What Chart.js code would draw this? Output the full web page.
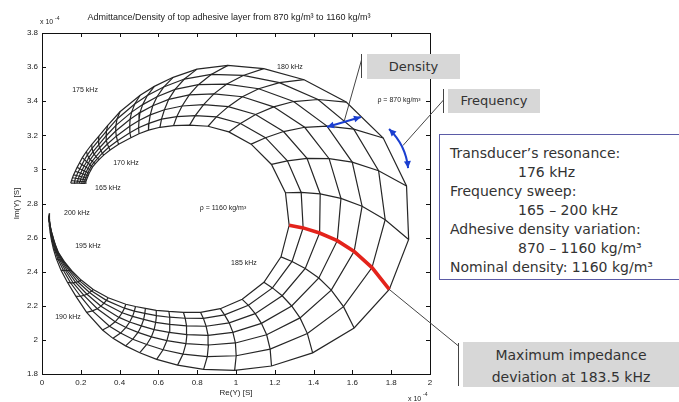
<!DOCTYPE html>
<html>
<head>
<meta charset="utf-8">
<script src="https://cdn.jsdelivr.net/npm/chart.js@4.4.0/dist/chart.umd.min.js"></script>
<style>
  body { margin: 0; background: #fff; }
  #wrap { position: relative; width: 679px; height: 402px; overflow: hidden; }
  #chart { position: absolute; left: 0; top: 0; }
  .note { position: absolute; font-family: "DejaVu Sans", sans-serif; color: #333; box-sizing: border-box; }
  .grey { background: #d7d7d7; text-align: center; }
  .info { left: 439px; top: 134px; width: 242px; height: 146px; border: 1.5px solid #5b5ba6;
          padding: 9px 0 0 10px; font-size: 14px; line-height: 19px; background: #fff; }
  .info .ind { padding-left: 68px; }
</style>
</head>
<body>
<div id="wrap">
  <canvas id="chart" width="679" height="402"></canvas>
  <div class="note grey" style="left:367px;top:54px;width:93px;height:25px;line-height:25px;font-size:13px;">Density</div>
  <div class="note grey" style="left:448px;top:89px;width:92px;height:24px;line-height:24px;font-size:13px;">Frequency</div>
  <div class="note info">
    <div>Transducer’s resonance:</div>
    <div class="ind">176 kHz</div>
    <div>Frequency sweep:</div>
    <div class="ind">165 – 200 kHz</div>
    <div>Adhesive density variation:</div>
    <div class="ind">870 – 1160 kg/m³</div>
    <div>Nominal density: 1160 kg/m³</div>
  </div>
  <div class="note grey" style="left:463px;top:342px;width:216px;height:45px;padding-top:2px;font-size:14px;line-height:22px;">Maximum impedance<br>deviation at 183.5 kHz</div>
</div>
<script>
// frequency grid (kHz) and adhesive densities (kg/m3)
const freqs = [165, 166, 167, 168, 169, 170, 171, 172, 173, 174, 175, 176, 177, 178,
  178.5, 179, 179.5, 180, 180.5, 181, 181.5, 182, 182.5, 183, 183.5, 184, 184.5, 185,
  185.5, 186, 186.5, 187, 187.5, 188, 188.5, 189,
  190, 191, 192, 193, 194, 195, 196, 197, 198, 199, 200];
const densities = [870, 918, 967, 1015, 1063, 1112, 1160];
const maxDevFreq = 183.5;

// Re(Y) and Im(Y), x 10^-4 S, one pair per density, one value per frequency
const re870 = [.148, .152, .157, .163, .171, .181, .193, .208, .229, .256, .293, .339, .402, .506,
  .579, .676, .799, .958, 1.143, 1.351, 1.568, 1.759, 1.879, 1.890, 1.790, 1.609, 1.395, 1.183,
  .993, .833, .699, .591, .504, .431, .366, .312,
  .230, .175, .131, .098, .074, .059, .049, .042, .039, .038, .039];
const im870 = [2.920, 2.934, 2.951, 2.968, 2.988, 3.012, 3.038, 3.069, 3.105, 3.146, 3.195, 3.258, 3.338, 3.435,
  3.487, 3.540, 3.588, 3.610, 3.591, 3.526, 3.395, 3.184, 2.903, 2.589, 2.296, 2.070, 1.924, 1.847,
  1.821, 1.827, 1.852, 1.886, 1.925, 1.965, 2.009, 2.058,
  2.161, 2.255, 2.338, 2.408, 2.475, 2.532, 2.583, 2.631, 2.671, 2.709, 2.742];

const re918 = [.165, .168, .173, .178, .186, .195, .206, .219, .234, .258, .291, .332, .387, .478,
  .543, .627, .734, .872, 1.037, 1.224, 1.423, 1.607, 1.735, 1.769, 1.701, 1.554, 1.368, 1.176,
  1.001, .852, .727, .624, .540, .468, .405, .348,
  .260, .198, .147, .110, .083, .065, .053, .045, .041, .038, .038];
const im918 = [2.920, 2.932, 2.948, 2.964, 2.983, 3.004, 3.028, 3.057, 3.085, 3.123, 3.169, 3.225, 3.296, 3.384,
  3.433, 3.483, 3.530, 3.557, 3.551, 3.509, 3.410, 3.236, 2.992, 2.705, 2.424, 2.195, 2.037, 1.946,
  1.907, 1.902, 1.917, 1.942, 1.973, 2.004, 2.040, 2.080,
  2.170, 2.256, 2.335, 2.408, 2.472, 2.528, 2.578, 2.626, 2.666, 2.704, 2.737];

const re967 = [.180, .183, .187, .192, .199, .207, .217, .230, .241, .263, .293, .330, .381, .462,
  .519, .593, .686, .806, .951, 1.117, 1.297, 1.469, 1.599, 1.650, 1.609, 1.491, 1.330, 1.158,
  .997, .858, .742, .644, .564, .495, .433, .377,
  .285, .216, .161, .121, .091, .070, .057, .048, .042, .038, .037];
const im967 = [2.919, 2.931, 2.946, 2.960, 2.978, 2.997, 3.020, 3.045, 3.069, 3.104, 3.145, 3.196, 3.258, 3.336,
  3.380, 3.426, 3.469, 3.497, 3.500, 3.473, 3.398, 3.254, 3.043, 2.784, 2.519, 2.292, 2.129, 2.030,
  1.982, 1.970, 1.978, 1.996, 2.018, 2.044, 2.073, 2.106,
  2.183, 2.261, 2.334, 2.407, 2.469, 2.524, 2.574, 2.621, 2.661, 2.699, 2.732];

const re1015 = [.192, .196, .199, .204, .211, .218, .227, .239, .249, .269, .297, .332, .380, .454,
  .505, .571, .653, .759, .886, 1.033, 1.194, 1.354, 1.480, 1.541, 1.522, 1.427, 1.287, 1.131,
  .984, .856, .747, .655, .578, .512, .452, .397,
  .304, .232, .173, .130, .098, .074, .060, .050, .043, .039, .037];
const im1015 = [2.919, 2.930, 2.943, 2.957, 2.973, 2.991, 3.012, 3.036, 3.057, 3.089, 3.127, 3.171, 3.225, 3.294,
  3.333, 3.373, 3.411, 3.437, 3.443, 3.426, 3.367, 3.247, 3.063, 2.830, 2.582, 2.363, 2.199, 2.097,
  2.044, 2.027, 2.031, 2.044, 2.060, 2.082, 2.105, 2.132,
  2.198, 2.268, 2.337, 2.407, 2.467, 2.520, 2.570, 2.616, 2.657, 2.694, 2.728];

const re1063 = [.204, .208, .211, .216, .221, .228, .237, .247, .259, .278, .304, .337, .383, .452,
  .500, .558, .631, .722, .833, .960, 1.101, 1.245, 1.366, 1.434, 1.431, 1.357, 1.238, 1.099,
  .965, .846, .745, .659, .586, .524, .467, .413,
  .319, .245, .184, .139, .104, .079, .063, .053, .044, .039, .036];
const im1063 = [2.918, 2.929, 2.941, 2.955, 2.969, 2.986, 3.005, 3.027, 3.048, 3.075, 3.110, 3.149, 3.195, 3.253,
  3.287, 3.320, 3.350, 3.372, 3.380, 3.368, 3.322, 3.222, 3.065, 2.856, 2.627, 2.419, 2.259, 2.154,
  2.100, 2.080, 2.082, 2.091, 2.103, 2.120, 2.138, 2.159,
  2.215, 2.278, 2.341, 2.407, 2.465, 2.517, 2.567, 2.612, 2.653, 2.690, 2.724];

const re1112 = [.215, .218, .221, .225, .231, .236, .245, .254, .267, .287, .311, .344, .389, .453,
  .498, .551, .616, .695, .790, .899, 1.023, 1.152, 1.265, 1.336, 1.346, 1.289, 1.188, 1.064,
  .941, .832, .738, .658, .590, .530, .476, .425,
  .332, .256, .194, .147, .110, .082, .066, .054, .045, .039, .035];
const im1112 = [2.918, 2.928, 2.939, 2.952, 2.966, 2.981, 2.999, 3.019, 3.040, 3.065, 3.095, 3.130, 3.168, 3.215,
  3.244, 3.270, 3.295, 3.310, 3.315, 3.308, 3.269, 3.186, 3.050, 2.865, 2.657, 2.460, 2.305, 2.203,
  2.147, 2.126, 2.127, 2.133, 2.142, 2.156, 2.169, 2.186,
  2.232, 2.287, 2.346, 2.406, 2.463, 2.514, 2.563, 2.609, 2.650, 2.687, 2.721];

const re1160 = [.223, .226, .229, .233, .238, .243, .251, .260, .275, .294, .318, .351, .395, .458,
  .500, .549, .608, .678, .761, .856, .963, 1.078, 1.183, 1.255, 1.274, 1.232, 1.144, 1.032,
  .919, .817, .729, .654, .589, .533, .482, .432,
  .341, .264, .202, .153, .114, .085, .068, .056, .046, .039, .035];
const im1160 = [2.918, 2.927, 2.938, 2.950, 2.963, 2.977, 2.994, 3.013, 3.034, 3.057, 3.084, 3.114, 3.147, 3.186,
  3.209, 3.230, 3.247, 3.257, 3.260, 3.253, 3.220, 3.148, 3.029, 2.863, 2.672, 2.487, 2.338, 2.238,
  2.183, 2.162, 2.162, 2.167, 2.173, 2.185, 2.196, 2.209,
  2.247, 2.296, 2.351, 2.406, 2.461, 2.512, 2.561, 2.606, 2.647, 2.684, 2.718];

const xTicks = [0, 0.2, 0.4, 0.6, 0.8, 1, 1.2, 1.4, 1.6, 1.8, 2];
const yTicks = [1.8, 2, 2.2, 2.4, 2.6, 2.8, 3, 3.2, 3.4, 3.6, 3.8];

// text labels inside the axes, placed in data units
const plotNotes = [
  { text: '180 kHz', x: 1.278, y: 3.601 },
  { text: '175 kHz', x: 0.222, y: 3.466 },
  { text: '170 kHz', x: 0.433, y: 3.038 },
  { text: '165 kHz', x: 0.340, y: 2.891 },
  { text: '200 kHz', x: 0.180, y: 2.744 },
  { text: '195 kHz', x: 0.237, y: 2.551 },
  { text: '190 kHz', x: 0.134, y: 2.134 },
  { text: '185 kHz', x: 1.041, y: 2.451 },
  { text: 'ρ = 1160 kg/m³', x: 0.933, y: 2.774 },
  { text: 'ρ = 870 kg/m³', x: 1.840, y: 3.407 },
];
const densityArrow = [{ x: 1.469, y: 3.249 }, { x: 1.644, y: 3.307 }];
const freqArrow = [{ x: 1.789, y: 3.237 }, { x: 1.876, y: 3.140 }, { x: 1.887, y: 3.008 }];

const curveRe = [re870, re918, re967, re1015, re1063, re1112, re1160];
const curveIm = [im870, im918, im967, im1015, im1063, im1112, im1160];

const lineColor = '#262626';
const datasets = [];
densities.forEach((d, i) => {
  datasets.push({
    label: 'rho = ' + d,
    data: freqs.map((f, j) => ({ x: curveRe[i][j], y: curveIm[i][j] })),
    borderColor: lineColor,
    borderWidth: 1.2,
    pointRadius: 0,
    showLine: true,
    order: 1,
  });
});
freqs.forEach((f, j) => {
  const hot = f === maxDevFreq;
  datasets.push({
    label: f + ' kHz',
    data: densities.map((d, i) => ({ x: curveRe[i][j], y: curveIm[i][j] })),
    borderColor: hot ? '#e3231b' : lineColor,
    borderWidth: hot ? 3.6 : 1.2,
    pointRadius: 0,
    showLine: true,
    order: hot ? 0 : 1,
  });
});

const arrowHead = (ctx, tx, ty, fx, fy) => {
  const a = Math.atan2(ty - fy, tx - fx);
  ctx.beginPath();
  ctx.moveTo(tx, ty);
  ctx.lineTo(tx - 7 * Math.cos(a) + 3.5 * Math.sin(a), ty - 7 * Math.sin(a) - 3.5 * Math.cos(a));
  ctx.lineTo(tx - 7 * Math.cos(a) - 3.5 * Math.sin(a), ty - 7 * Math.sin(a) + 3.5 * Math.cos(a));
  ctx.closePath();
  ctx.fill();
};

const extras = {
  id: 'extras',
  afterDraw(chart) {
    const { ctx, chartArea: a, scales: { x, y } } = chart;
    const px = p => ({ x: x.getPixelForValue(p.x), y: y.getPixelForValue(p.y) });
    ctx.save();

    // axes box and inward ticks
    ctx.strokeStyle = '#111';
    ctx.lineWidth = 1;
    ctx.strokeRect(a.left + 0.5, a.top + 0.5, a.right - a.left, a.bottom - a.top);
    ctx.beginPath();
    xTicks.forEach(v => {
      const p = Math.round(x.getPixelForValue(v)) + 0.5;
      ctx.moveTo(p, a.bottom); ctx.lineTo(p, a.bottom - 4);
      ctx.moveTo(p, a.top); ctx.lineTo(p, a.top + 4);
    });
    yTicks.forEach(v => {
      const p = Math.round(y.getPixelForValue(v)) + 0.5;
      ctx.moveTo(a.left, p); ctx.lineTo(a.left + 4, p);
      ctx.moveTo(a.right, p); ctx.lineTo(a.right - 4, p);
    });
    ctx.stroke();

    // title and exponent labels
    ctx.fillStyle = '#222';
    ctx.font = '9px "Liberation Sans", Arial, sans-serif';
    ctx.textAlign = 'center';
    ctx.textBaseline = 'middle';
    ctx.fillText('Admittance/Density of top adhesive layer from 870 kg/m³ to 1160 kg/m³', a.left + 187, 18);
    ctx.textAlign = 'left';
    ctx.textBaseline = 'alphabetic';
    ctx.font = '7px "Liberation Sans", Arial, sans-serif';
    ctx.fillText('x 10', a.left - 2, 24);
    ctx.fillText('x 10', a.right - 22, 401);
    ctx.font = '5px "Liberation Sans", Arial, sans-serif';
    ctx.fillText('-4', a.left + 13, 20);
    ctx.fillText('-4', a.right - 7, 396);

    // notes inside the plot
    ctx.font = '7px "Liberation Sans", Arial, sans-serif';
    ctx.textAlign = 'center';
    ctx.textBaseline = 'middle';
    plotNotes.forEach(n => ctx.fillText(n.text, x.getPixelForValue(n.x), y.getPixelForValue(n.y)));

    // callout connectors
    const dMid = px({ x: (densityArrow[0].x + densityArrow[1].x) / 2, y: (densityArrow[0].y + densityArrow[1].y) / 2 });
    const fMid = px(freqArrow[1]);
    const k = freqs.indexOf(maxDevFreq);
    const redEnd = px({ x: re870[k], y: im870[k] });
    ctx.strokeStyle = '#444';
    ctx.lineWidth = 1;
    ctx.beginPath();
    ctx.moveTo(361.5, 54); ctx.lineTo(361.5, 78);
    ctx.moveTo(361.5, 60); ctx.lineTo(dMid.x, dMid.y);
    ctx.moveTo(443.5, 89); ctx.lineTo(443.5, 113);
    ctx.moveTo(443.5, 100); ctx.lineTo(fMid.x - 3, fMid.y);
    ctx.moveTo(458.5, 343); ctx.lineTo(458.5, 386);
    ctx.moveTo(458.5, 346); ctx.lineTo(redEnd.x, redEnd.y);
    ctx.stroke();

    // blue arrows
    ctx.strokeStyle = '#1b3fd0';
    ctx.fillStyle = '#1b3fd0';
    ctx.lineWidth = 2;
    const d0 = px(densityArrow[0]), d1 = px(densityArrow[1]);
    ctx.beginPath(); ctx.moveTo(d0.x, d0.y); ctx.lineTo(d1.x, d1.y); ctx.stroke();
    arrowHead(ctx, d0.x, d0.y, d1.x, d1.y);
    arrowHead(ctx, d1.x, d1.y, d0.x, d0.y);
    const f0 = px(freqArrow[0]), fc = px(freqArrow[1]), f1 = px(freqArrow[2]);
    ctx.beginPath(); ctx.moveTo(f0.x, f0.y); ctx.quadraticCurveTo(fc.x, fc.y, f1.x, f1.y); ctx.stroke();
    arrowHead(ctx, f0.x, f0.y, fc.x, fc.y);
    arrowHead(ctx, f1.x, f1.y, fc.x, fc.y);

    ctx.restore();
  },
};

Chart.defaults.font.family = '"Liberation Sans", Arial, sans-serif';
Chart.defaults.color = '#222';

new Chart(document.getElementById('chart'), {
  type: 'scatter',
  data: { datasets },
  options: {
    responsive: false,
    animation: false,
    devicePixelRatio: 1,
    layout: { padding: { left: 0, right: 249, top: 33, bottom: 0 } },
    plugins: { legend: { display: false }, tooltip: { enabled: false } },
    scales: {
      x: {
        type: 'linear',
        min: 0,
        max: 2,
        afterFit: s => { s.height = 28; },
        afterBuildTicks: s => { s.ticks = xTicks.map(v => ({ value: v })); },
        ticks: { font: { size: 8 }, padding: 4, callback: v => String(+v.toFixed(1)) },
        grid: { display: false, drawTicks: false },
        border: { display: false },
        title: { display: true, text: 'Re(Y) [S]', font: { size: 8 }, padding: { top: 0, bottom: 4 } },
      },
      y: {
        type: 'linear',
        min: 1.8,
        max: 3.8,
        afterFit: s => { s.width = 42; },
        afterBuildTicks: s => { s.ticks = yTicks.map(v => ({ value: v })); },
        ticks: { font: { size: 8 }, padding: 4, callback: v => String(+v.toFixed(1)) },
        grid: { display: false, drawTicks: false },
        border: { display: false },
        title: { display: true, text: 'Im(Y) [S]', font: { size: 8 }, padding: { top: 12, bottom: 0 } },
      },
    },
  },
  plugins: [extras],
});
</script>
</body>
</html>
